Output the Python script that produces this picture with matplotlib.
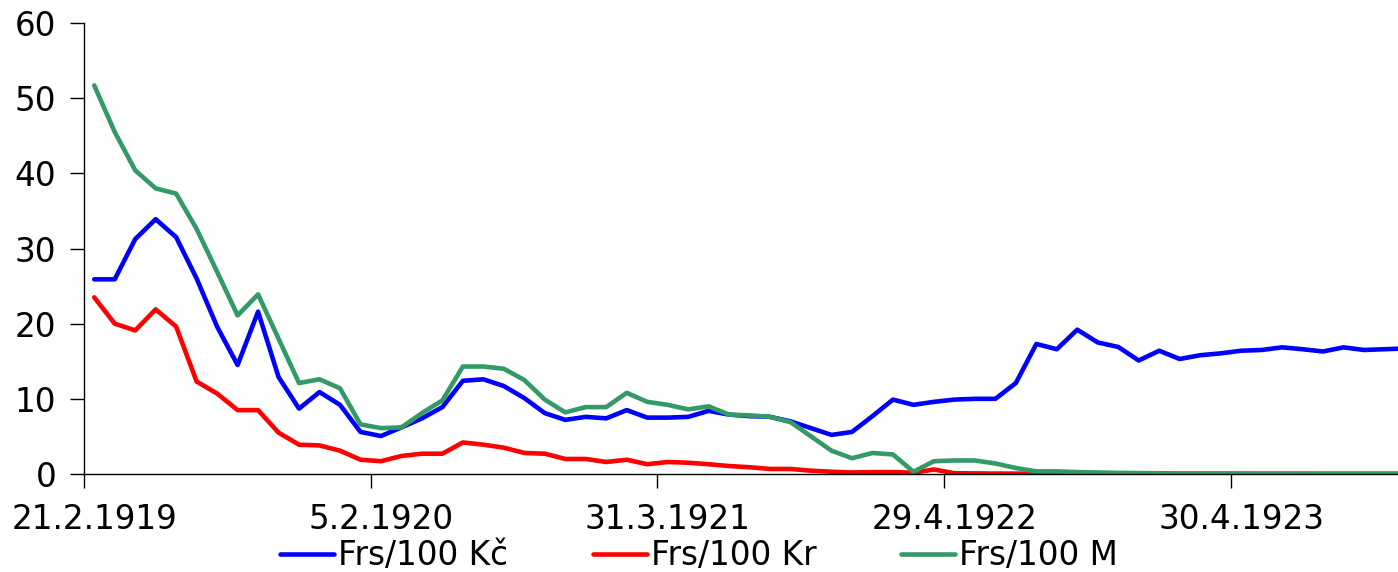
import matplotlib
matplotlib.use("Agg")
import matplotlib.pyplot as plt
import numpy as np

# Exchange rates, French francs per 100 units (one value per observation date)
kc = [25.9, 25.9, 31.25, 33.9, 31.5, 26.0, 19.6, 14.5, 21.6, 12.9,
      8.7, 10.9, 9.2, 5.6, 5.05, 6.2, 7.4, 8.9, 12.4, 12.6,
      11.7, 10.1, 8.1, 7.2, 7.6, 7.4, 8.5, 7.5, 7.5, 7.6,
      8.4, 7.9, 7.7, 7.6, 7.0, 6.1, 5.2, 5.6, 7.7, 9.9,
      9.2, 9.6, 9.9, 10.0, 10.0, 12.1, 17.3, 16.6, 19.2, 17.5,
      16.9, 15.1, 16.4, 15.3, 15.8, 16.05, 16.4, 16.5, 16.85, 16.6,
      16.3, 16.85, 16.5, 16.6, 16.7]
kr = [23.5, 20.0, 19.1, 21.9, 19.6, 12.3, 10.7, 8.5, 8.5, 5.5,
      3.9, 3.8, 3.1, 1.9, 1.7, 2.4, 2.7, 2.7, 4.2, 3.9,
      3.5, 2.8, 2.7, 2.0, 2.0, 1.6, 1.9, 1.3, 1.6, 1.5,
      1.3, 1.06, 0.9, 0.67, 0.67, 0.44, 0.3, 0.2, 0.25, 0.25,
      0.17, 0.6, 0.1, 0.08, 0.06, 0.05, 0.04, 0.04, 0.03, 0.03,
      0.03, 0.02, 0.02, 0.02, 0.02, 0.02, 0.01, 0.01, 0.01, 0.01,
      0.01, 0.01, 0.01, 0.01, 0.01]
m = [51.7, 45.5, 40.4, 38.0, 37.3, 32.6, 26.9, 21.1, 23.9, 18.0,
     12.1, 12.6, 11.4, 6.6, 6.1, 6.2, 8.1, 9.8, 14.3, 14.3,
     14.0, 12.5, 9.9, 8.2, 8.9, 8.9, 10.8, 9.6, 9.2, 8.6,
     9.0, 7.9, 7.8, 7.6, 6.9, 5.0, 3.1, 2.1, 2.8, 2.6,
     0.3, 1.7, 1.8, 1.8, 1.4, 0.8, 0.35, 0.35, 0.25, 0.2,
     0.15, 0.12, 0.1, 0.08, 0.08, 0.07, 0.07, 0.06, 0.06, 0.06,
     0.05, 0.05, 0.05, 0.05, 0.05]

# dates shown on the category axis (every 14th observation)
date_labels = ["21.2.1919", "5.2.1920", "31.3.1921", "29.4.1922", "30.4.1923"]
label_step = 14

series = [
    (kc, "Frs/100 Kč", "#0000FF"),
    (kr, "Frs/100 Kr", "#FF0000"),
    (m, "Frs/100 M", "#339966"),
]

FS = 23.5
plt.rcParams['font.family'] = ['DejaVu Sans']

fig = plt.figure(figsize=(13.98, 5.72), dpi=100)
ax = fig.add_axes([84 / 1398, 1 - 474 / 572, 1 - 84 / 1398, (474 - 23) / 572])

x = np.arange(len(kc))
for vals, name, col in series:
    ax.plot(x, vals, color=col, linewidth=3.3, label=name,
            solid_joinstyle='round', solid_capstyle='round')

ax.set_ylim(0, 60)
ax.set_yticks(range(0, 61, 10))
ax.set_xlim(-0.5, 63.66)

# ticks between categories, labels on category centres
label_pos = [i * label_step for i in range(len(date_labels))]
ax.set_xticks([p - 0.5 for p in label_pos])
ax.set_xticklabels([])
ax.set_xticks(label_pos, minor=True)
ax.set_xticklabels(date_labels, minor=True)
ax.tick_params(axis='x', which='minor', length=0, pad=21, labelsize=FS)
ax.tick_params(axis='x', which='major', length=10, width=1.0, direction='out')
ax.tick_params(axis='y', length=10, width=1.0, direction='out', pad=10, labelsize=FS)

for s in ['top', 'right']:
    ax.spines[s].set_visible(False)
for s in ['left', 'bottom']:
    ax.spines[s].set_linewidth(1.0)

fig.legend(loc='center', bbox_to_anchor=(0.5, 0.028), ncol=3, frameon=False,
           fontsize=FS, handlelength=1.65, handletextpad=0.12,
           columnspacing=2.6, borderaxespad=0)

fig.savefig("out.png", dpi=100)
